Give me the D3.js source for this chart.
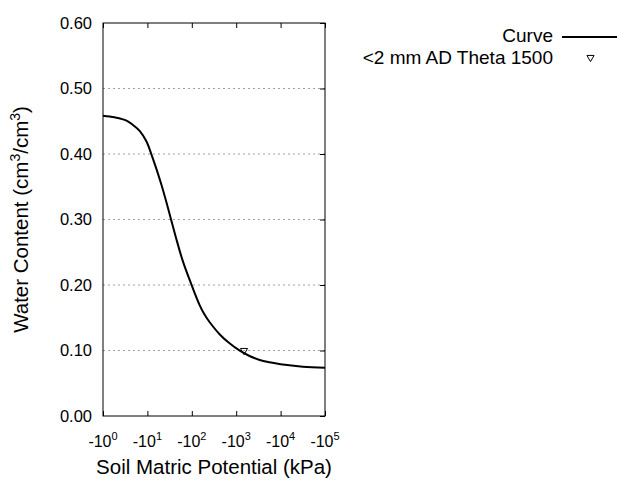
<!DOCTYPE html>
<html>
<head>
<meta charset="utf-8">
<script src="https://cdn.jsdelivr.net/npm/d3@7"></script>
<style>
  body { margin: 0; background: #fff; }
  text { font-family: "Liberation Sans", Arial, sans-serif; fill: #000; }
</style>
</head>
<body>
<div id="chart"></div>
<script>
// suction (kPa, plotted as negative potential) and water content
var potential = [1, 1.82, 3.39, 4.79, 6.76, 9.55, 12.3, 15.8, 20.7, 26.9, 33.5, 43.7, 63.1, 97.7, 151, 195, 251, 427, 708, 1202, 1995, 3388, 5623, 10000, 31623, 100000];
var theta = [0.4585, 0.456, 0.451, 0.444, 0.435, 0.419, 0.3995, 0.378, 0.353, 0.326, 0.302, 0.273, 0.236, 0.201, 0.169, 0.1545, 0.1435, 0.1245, 0.111, 0.0997, 0.0916, 0.0855, 0.082, 0.079, 0.0753, 0.0737];
var pointPotential = [1500];
var pointTheta = [0.100];
var xTicks = [1, 10, 100, 1000, 10000, 100000];
var yTicks = [0, 0.1, 0.2, 0.3, 0.4, 0.5, 0.6];

var chartWidth = 640, chartHeight = 480,
    margin = {top: 23, right: 315, bottom: 64, left: 103},
    width = chartWidth - margin.left - margin.right,
    height = chartHeight - margin.top - margin.bottom;

var svg = d3.select("#chart").append("svg")
    .attr("width", chartWidth)
    .attr("height", chartHeight);

var g = svg.append("g")
    .attr("transform", "translate(" + margin.left + "," + margin.top + ")");

var x = d3.scaleLog().domain([1, 100000]).range([0, width]);
var y = d3.scaleLinear().domain([0, 0.6]).range([height, 0]);

// grid
g.selectAll(".grid")
  .data(yTicks.filter(function(d){ return d > 0 && d < 0.6; }))
  .enter().append("line")
    .attr("class", "grid")
    .attr("x1", 0).attr("x2", width)
    .attr("y1", function(d){ return y(d); })
    .attr("y2", function(d){ return y(d); })
    .attr("stroke", "#a0a0a0")
    .attr("stroke-dasharray", "2,3");

// inward ticks on all sides
g.append("g")
    .attr("transform", "translate(0," + height + ")")
    .call(d3.axisBottom(x).tickValues(xTicks).tickSize(-5).tickFormat(""));
g.append("g")
    .call(d3.axisTop(x).tickValues(xTicks).tickSize(-5).tickFormat(""));
g.append("g")
    .attr("transform", "translate(" + width + ",0)")
    .call(d3.axisRight(y).tickValues(yTicks).tickSize(-5).tickFormat(""));
g.selectAll(".domain").remove();
g.selectAll(".tick line").attr("stroke", "#000");

// y tick labels
g.selectAll(".ylab")
  .data(yTicks)
  .enter().append("text")
    .attr("class", "ylab")
    .attr("x", -11)
    .attr("y", function(d){ return y(d); })
    .attr("dy", "0.36em")
    .attr("text-anchor", "end")
    .style("font-size", "16.5px")
    .text(function(d){ return d3.format(".2f")(d); });

// x tick labels
var xl = g.selectAll(".xlab")
  .data(xTicks)
  .enter().append("text")
    .attr("class", "xlab")
    .attr("x", function(d){ return x(d); })
    .attr("y", height + 31)
    .attr("text-anchor", "middle")
    .style("font-size", "16px");
xl.append("tspan").text("-10");
xl.append("tspan")
    .attr("dy", -7)
    .style("font-size", "11px")
    .text(function(d){ return Math.round(Math.log10(d)); });

// frame
g.append("rect")
    .attr("width", width).attr("height", height)
    .attr("fill", "none").attr("stroke", "#000");

// curve
var line = d3.line()
    .x(function(d){ return x(d[0]); })
    .y(function(d){ return y(d[1]); })
    .curve(d3.curveCatmullRom);

g.append("path")
    .datum(d3.zip(potential, theta))
    .attr("d", line)
    .attr("fill", "none")
    .attr("stroke", "#000")
    .attr("stroke-width", 2);

// measured point
var tri = d3.symbol().type(d3.symbolTriangle).size(22);
g.selectAll(".pt")
  .data(d3.zip(pointPotential, pointTheta))
  .enter().append("path")
    .attr("class", "pt")
    .attr("d", tri)
    .attr("transform", function(d){ return "translate(" + x(d[0]) + "," + y(d[1]) + ") rotate(180)"; })
    .attr("fill", "none")
    .attr("stroke", "#000");

// axis titles
svg.append("text")
    .attr("x", margin.left + width / 2)
    .attr("y", 474)
    .attr("text-anchor", "middle")
    .style("font-size", "20.5px")
    .text("Soil Matric Potential (kPa)");

var yt = svg.append("text")
    .attr("transform", "translate(28," + (margin.top + height / 2) + ") rotate(-90)")
    .attr("text-anchor", "middle")
    .style("font-size", "20.5px");
yt.append("tspan").text("Water Content (cm");
yt.append("tspan").attr("dy", -8).style("font-size", "14px").text("3");
yt.append("tspan").attr("dy", 8).text("/cm");
yt.append("tspan").attr("dy", -8).style("font-size", "14px").text("3");
yt.append("tspan").attr("dy", 8).text(")");

// legend
var legend = svg.append("g");
legend.append("text")
    .attr("x", 553).attr("y", 42)
    .attr("text-anchor", "end")
    .style("font-size", "19px")
    .text("Curve");
legend.append("line")
    .attr("x1", 562).attr("x2", 617)
    .attr("y1", 37).attr("y2", 37)
    .attr("stroke", "#000").attr("stroke-width", 2);
legend.append("text")
    .attr("x", 553).attr("y", 63.5)
    .attr("text-anchor", "end")
    .style("font-size", "19px")
    .text("<2 mm AD Theta 1500");
legend.append("path")
    .attr("d", tri)
    .attr("transform", "translate(590.5,57.5) rotate(180)")
    .attr("fill", "none")
    .attr("stroke", "#000");
</script>
</body>
</html>
